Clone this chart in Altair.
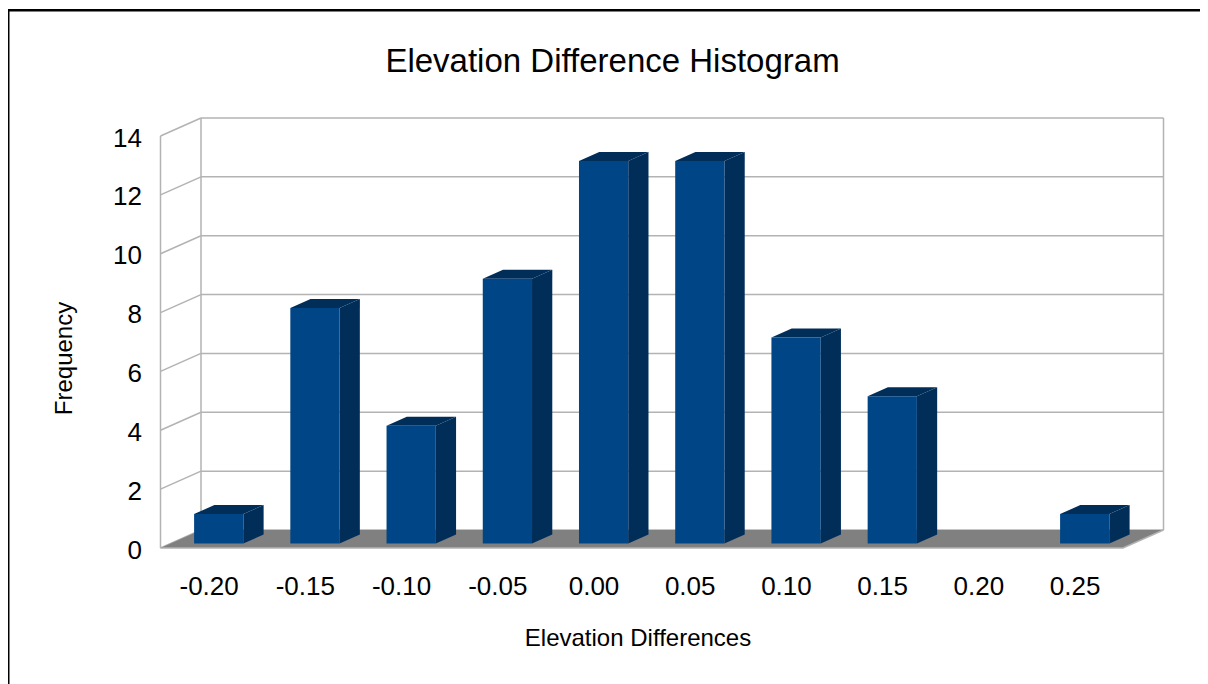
import altair as alt
import pandas as pd

# values
bins = [-0.20, -0.15, -0.10, -0.05, 0.00, 0.05, 0.10, 0.15, 0.20, 0.25]
freq = [1, 8, 4, 9, 13, 13, 7, 5, 0, 1]
y_ticks = [0, 2, 4, 6, 8, 10, 12, 14]
chart_title = "Elevation Difference Histogram"

# pseudo-3D box geometry in data units
X_MIN, X_MAX = -0.225, 0.2962
Y_MAX = 14.612
DEPTH_X, DEPTH_Y = 0.02105, 0.612
HALF = 0.0128
FONT = "Liberation Sans"
GRID = "#b3b3b3"

xs = alt.Scale(domain=[X_MIN, X_MAX], nice=False, zero=False)
ys = alt.Scale(domain=[0, Y_MAX], nice=False, zero=False)
x_axis = alt.Axis(
    values=bins, title="Elevation Differences", grid=False, domain=False, ticks=False,
    labelExpr="replace(format(datum.value,'.2f'),'\u2212','-')",
    labelFont=FONT, labelFontSize=26, labelColor="black", labelPadding=38,
    labelBaseline="middle", labelOverlap=False, labelFlush=False,
    titleFont=FONT, titleFontSize=24, titleFontWeight="normal", titleColor="black",
    titleX=477, titleY=90, titleBaseline="middle")
y_axis = alt.Axis(
    values=y_ticks, title="Frequency", grid=False, domain=False, ticks=False,
    labelFont=FONT, labelFontSize=26, labelColor="black", labelPadding=19, labelOffset=2,
    labelOverlap=False, labelFlush=False,
    titleFont=FONT, titleFontSize=24, titleFontWeight="normal", titleColor="black",
    titleX=-96, titleY=240, titleBaseline="middle")
X = lambda f: alt.X(f, type="quantitative", scale=xs, axis=x_axis)
Y = lambda f: alt.Y(f, type="quantitative", scale=ys, axis=y_axis)

front, side, top = [], [], []
for b, v in zip(bins, freq):
    if v == 0:
        continue
    xl = b + DEPTH_X * 0.25 - HALF
    xr = b + DEPTH_X * 0.25 + HALF
    y0 = DEPTH_Y * 0.25
    d_x, d_y = DEPTH_X * 0.5, DEPTH_Y * 0.5
    front.append(dict(xl=xl, xr=xr, y0=y0, y1=y0 + v))
    side += [dict(b=b, x=xr, y0=y0, y1=y0 + v), dict(b=b, x=xr + d_x, y0=y0 + d_y, y1=y0 + v + d_y)]
    top += [dict(b=b, y=y0 + v, xl=xl, xr=xr), dict(b=b, y=y0 + v + d_y, xl=xl + d_x, xr=xr + d_x)]

wall = []
for t in y_ticks:
    wall += [dict(k=f"s{t}", x=X_MIN, y=t), dict(k=f"s{t}", x=X_MIN + DEPTH_X, y=t + DEPTH_Y)]
    wall += [dict(k=f"b{t}", x=X_MIN + DEPTH_X, y=t + DEPTH_Y), dict(k=f"b{t}", x=X_MAX, y=t + DEPTH_Y)]
for k, xv, dy in [("v1", X_MIN, 0), ("v2", X_MIN + DEPTH_X, DEPTH_Y), ("v3", X_MAX, DEPTH_Y)]:
    wall += [dict(k=k, x=xv, y=dy), dict(k=k, x=xv, y=14 + dy)]

floor = [dict(y=0, xl=X_MIN, xr=X_MAX - DEPTH_X), dict(y=DEPTH_Y, xl=X_MIN + DEPTH_X, xr=X_MAX)]
floor_edge = [dict(x=X_MIN, y=0), dict(x=X_MAX - DEPTH_X, y=0), dict(x=X_MAX, y=DEPTH_Y)]

walls = alt.Chart(pd.DataFrame(wall)).mark_line(color=GRID, strokeWidth=1.5).encode(
    x=X("x"), y=Y("y"), detail="k:N")
floor_layer = alt.Chart(pd.DataFrame(floor)).mark_area(orient="horizontal", color="#808080").encode(
    y=Y("y"), x=X("xl"), x2="xr:Q")
edge = alt.Chart(pd.DataFrame(floor_edge)).mark_line(color=GRID, strokeWidth=1.5).encode(x=X("x"), y=Y("y"))
sides = alt.Chart(pd.DataFrame(side)).mark_area(color="#002e59").encode(
    x=X("x"), y=Y("y1"), y2="y0:Q", detail="b:N")
tops = alt.Chart(pd.DataFrame(top)).mark_area(orient="horizontal", color="#002e59").encode(
    y=Y("y"), x=X("xl"), x2="xr:Q", detail="b:N")
fronts = alt.Chart(pd.DataFrame(front)).mark_rect(color="#004586").encode(
    x=X("xl"), x2="xr:Q", y=Y("y0"), y2="y1:Q")

frame_top = alt.Chart(pd.DataFrame({"a": [0]})).mark_rule(color="black", strokeWidth=2.5).encode(
    x=alt.value(-152), x2=alt.value(1050), y=alt.value(-107.8))
frame_left = alt.Chart(pd.DataFrame({"a": [0]})).mark_rule(color="black", strokeWidth=2).encode(
    x=alt.value(-152), y=alt.value(-109), y2=alt.value(570))
title_mark = alt.Chart(pd.DataFrame({"t": [chart_title]})).mark_text(
    font=FONT, fontSize=33, color="black", align="center", baseline="middle").encode(
    text="t:N", x=alt.value(452), y=alt.value(-56))

chart = alt.layer(walls, floor_layer, edge, sides, tops, fronts, frame_top, frame_left, title_mark).properties(
    width=1003, height=430,
    padding={"left": 152.5, "top": 110, "right": 36.5, "bottom": 136},
    autosize=alt.AutoSizeParams(type="none"),
    background="white",
).configure_view(stroke=None)

chart.save("out.html", embed_options={"renderer": "svg", "actions": False})
